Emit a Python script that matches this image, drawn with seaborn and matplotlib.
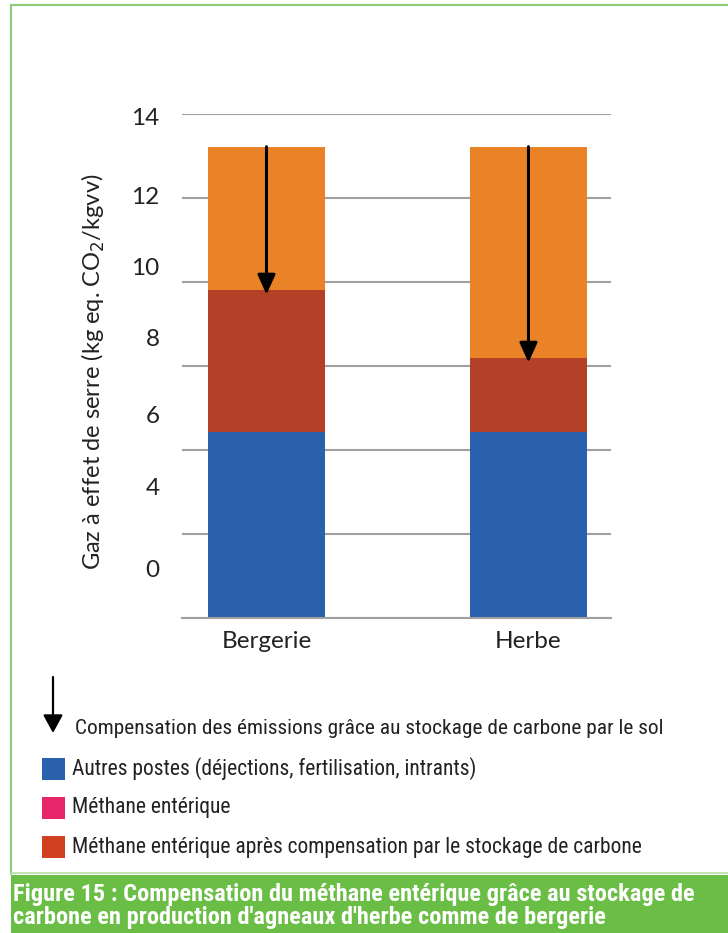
import matplotlib
matplotlib.use("Agg")
import matplotlib.pyplot as plt
import matplotlib.patches as mpatches
import pandas as pd
import seaborn as sns

# values (kg eq. CO2 / kgvv)
systems = ["Bergerie", "Herbe"]
autres = [6.44, 6.44]                 # autres postes (blue)
apres_compensation = [9.82, 8.20]     # top of the brown part
total = [13.22, 13.22]                # top of the orange part

grid_vals = [2, 4, 6, 8, 10, 12, 14]
ytick_text = ["0", "4", "6", "8", "10", "12", "14"]
ytick_pos = [3.18, 5.13, 6.84, 8.67, 10.37, 12.05, 13.94]

legend_labels = [
    "Autres postes (déjections, fertilisation, intrants)",
    "Méthane entérique",
    "Méthane entérique après compensation par le stockage de carbone",
]
arrow_label = "Compensation des émissions grâce au stockage de carbone par le sol"
caption = ("Figure 15 : Compensation du méthane entérique grâce au stockage de\n"
           "carbone en production d'agneaux d'herbe comme de bergerie")

blue = "#2961ad"
brown = "#b34127"
orange = "#ea8228"
pink = "#e8266a"
red_leg = "#d14021"
green = "#6abd45"
frame_green = "#8ccd77"

sns.set_theme(style="white")
plt.rcParams["font.family"] = ["Lato", "DejaVu Sans"]
narrow = ["Liberation Sans Narrow", "Roboto Condensed", "Open Sans", "DejaVu Sans"]

df = pd.DataFrame({"systeme": systems, "autres": autres,
                   "apres": apres_compensation, "total": total})

fig = plt.figure(figsize=(7.28, 9.33), dpi=100)
ax = fig.add_axes([182 / 728, 1 - 618 / 933, 429 / 728, 504 / 933])

bw = 0.447
for col, c in [("total", orange), ("apres", brown), ("autres", blue)]:
    sns.barplot(data=df, x="systeme", y=col, color=c, width=bw,
                saturation=1, linewidth=0, ax=ax, zorder=2)

# compensation arrows
for i in range(len(systems)):
    ax.annotate("", xy=(i, apres_compensation[i] - 0.12), xytext=(i, total[i]),
                arrowprops=dict(arrowstyle="-|>,head_length=1.0,head_width=0.45",
                                color="black", lw=2.2, shrinkA=0, shrinkB=0),
                zorder=5)

ax.set_xlim(-0.3225, 1.315)
ax.set_ylim(2, 14)
ax.set_yticks(grid_vals, labels=[""] * len(grid_vals))
ax.set_yticks(ytick_pos, labels=ytick_text, minor=True)
ax.tick_params(axis="y", which="both", length=0, pad=16, labelsize=17.5,
               labelcolor="#222222")
ax.tick_params(axis="x", length=0, pad=9, labelsize=17.5, labelcolor="#222222")
ax.yaxis.grid(True, which="major", color="#a0a0a0", lw=1.5, zorder=0)
ax.set_axisbelow(True)
for s in ["top", "right", "left"]:
    ax.spines[s].set_visible(False)
ax.spines["bottom"].set_color("#a0a0a0")
ax.spines["bottom"].set_linewidth(1.5)
ax.set_xlabel("")
ax.set_ylabel("Gaz à effet de serre (kg eq. CO$_2$/kgvv)", fontsize=17,
              color="#222222")
ax.yaxis.set_label_coords(-0.175, 0.488)

# frame lines and caption band
fig.add_artist(plt.Line2D([11 / 728, 11 / 728], [1 - 5 / 933, 1 - 874 / 933],
                          color=frame_green, lw=1.5))
fig.add_artist(plt.Line2D([11 / 728, 1], [1 - 5 / 933, 1 - 5 / 933],
                          color=frame_green, lw=1.5))
fig.add_artist(plt.Line2D([11 / 728, 1], [1 - 873 / 933, 1 - 873 / 933],
                          color="#b5e0a8", lw=1.2))
fig.add_artist(mpatches.Rectangle((11 / 728, 0), 1 - 11 / 728, (933 - 875) / 933,
                                  transform=fig.transFigure, color=green, lw=0))
fig.text(13 / 728, 1 - 906 / 933, caption, color="white", fontsize=17.6,
         fontweight="bold", family=narrow, va="center", ha="left",
         linespacing=0.98)

# legend
fig.add_artist(mpatches.FancyArrowPatch((53 / 728, 1 - 677 / 933), (53 / 728, 1 - 733 / 933),
                                        transform=fig.transFigure,
                                        arrowstyle="-|>,head_length=11,head_width=6",
                                        color="black", lw=1.6, shrinkA=0, shrinkB=0))
fig.text(75 / 728, 1 - 728 / 933, arrow_label, fontsize=15.4, family=narrow,
         color="#222222", va="center", ha="left")
ys = [769, 808, 847]
for y, c, lab in zip(ys, [blue, pink, red_leg], legend_labels):
    fig.add_artist(mpatches.Rectangle((42 / 728, 1 - (y + 11) / 933), 23 / 728, 22 / 933,
                                      transform=fig.transFigure, color=c, lw=0))
    fig.text(72 / 728, 1 - y / 933, lab, fontsize=15.5, family=narrow,
             color="#222222", va="center", ha="left")

fig.savefig("out.png", dpi=100)
